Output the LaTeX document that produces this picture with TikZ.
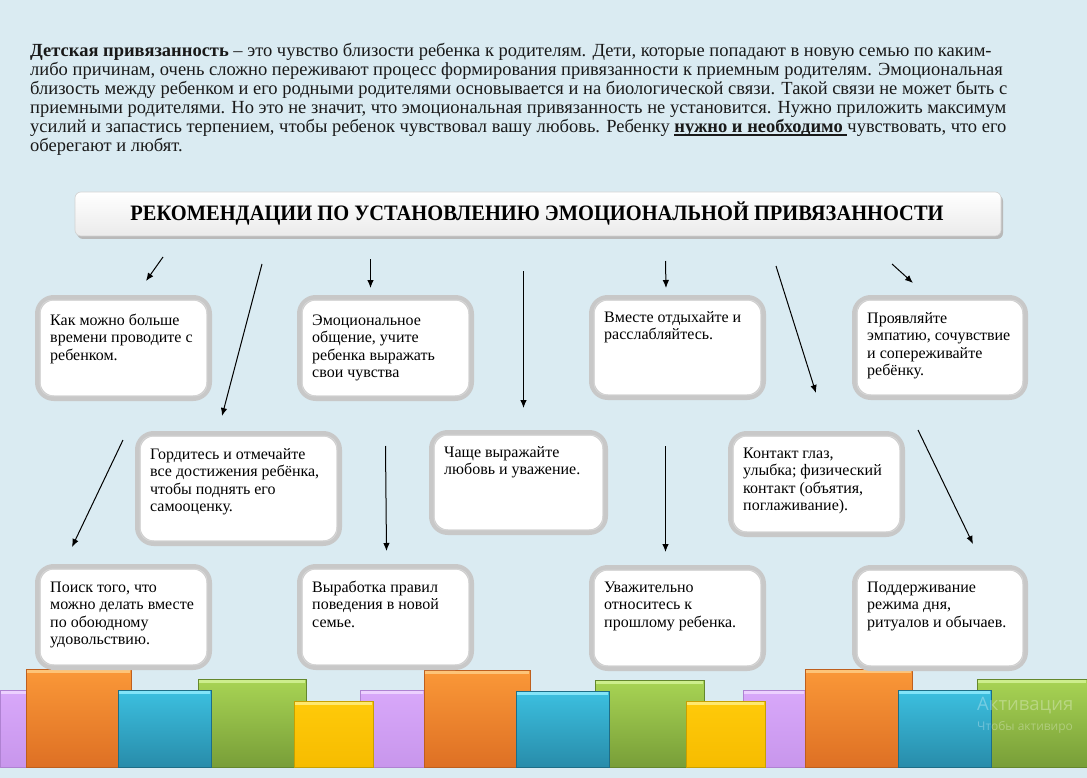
\documentclass[tikz,border=0pt]{standalone}
\usepackage{fontspec}
\usepackage{graphicx}
\setmainfont{Liberation Serif}
\newfontfamily\wmfont{Open Sans}
\usetikzlibrary{arrows.meta,calc}

\definecolor{bg}{RGB}{218,235,242}
\definecolor{boxgray}{RGB}{200,200,200}
\definecolor{boxinner}{RGB}{214,214,214}
\definecolor{txt}{RGB}{25,25,25}
\definecolor{orT}{RGB}{250,152,56}\definecolor{orB}{RGB}{222,112,36}\definecolor{orH}{RGB}{253,196,120}\definecolor{orE}{RGB}{190,95,30}
\definecolor{blT}{RGB}{60,192,224}\definecolor{blB}{RGB}{40,140,170}\definecolor{blH}{RGB}{130,228,248}\definecolor{blE}{RGB}{30,110,135}
\definecolor{grT}{RGB}{168,212,84}\definecolor{grB}{RGB}{120,158,56}\definecolor{grH}{RGB}{205,238,140}\definecolor{grE}{RGB}{100,135,45}
\definecolor{ylT}{RGB}{255,202,10}\definecolor{ylB}{RGB}{246,188,0}\definecolor{ylH}{RGB}{255,232,110}\definecolor{ylE}{RGB}{200,160,0}
\definecolor{puT}{RGB}{216,168,250}\definecolor{puB}{RGB}{200,150,236}\definecolor{puH}{RGB}{236,208,255}\definecolor{puE}{RGB}{175,130,210}

\newcommand\ulx[1]{\setbox0\hbox{#1}\rlap{\rule[-2.8pt]{\wd0}{1.6pt}}\box0}

\tikzset{
  recbox/.style={draw=boxgray, line width=5.5pt, fill=white, rounded corners=16pt, inner sep=0pt},
  innerline/.style={draw=boxinner, line width=0.9pt, rounded corners=12pt},
  boxtext/.style={anchor=base west, inner sep=0pt, text=black,
    font=\fontsize{16}{17.5}\selectfont},
  partext/.style={anchor=base west, inner sep=0pt, text=txt, font=\fontsize{18.5}{19}\selectfont},
  arr/.style={draw=black, line width=1pt, -{Latex[length=8pt,width=6.5pt]}},
  bar/.style={line width=0.6pt},
}

\newcommand\rbox[7]{%
  \node[recbox, minimum width={#4pt-#2pt-5.5pt}, minimum height={#5pt-#3pt-5.5pt}]
    (b#1) at ({(#2+#4)/2},{(#3+#5)/2}) {};
  \draw[innerline] ($(b#1.north west)+(5,5)$) rectangle ($(b#1.south east)+(-5,-5)$);
  \node[boxtext] (t#1) at ({#2+15},#7) {\begin{tabular}[t]{@{}l@{}}#6\end{tabular}};
}
\newcommand\barx[4]{% x1 top x2 colorprefix
  \path[bar, top color=#4T, bottom color=#4B, draw=#4E] (#1,#2) rectangle (#3,767);
  \fill[#4H] ({#1+0.6},{#2+0.6}) rectangle ({#3-0.6},{#2+4});
}

\begin{document}
\begin{tikzpicture}[x=1pt,y=-1pt]
\useasboundingbox (0,0) rectangle (1087,778);
\fill[bg] (0,0) rectangle (1087,778);

% paragraph
\node[partext] (p1) at (30,57) {\textbf{Детская привязанность} – это чувство близости ребенка к родителям. Дети, которые попадают в новую семью по каким-};
\node[partext] (p2) at (30,76) {либо причинам, очень сложно переживают процесс формирования привязанности к приемным родителям. Эмоциональная};
\node[partext] (p3) at (30,95) {близость между ребенком и его родными родителями основывается и на биологической связи. Такой связи не может быть с};
\node[partext] (p4) at (30,114) {приемными родителями. Но это не значит, что эмоциональная привязанность не установится. Нужно приложить максимум};
\node[partext] (p5) at (30,133) {усилий и запастись терпением, чтобы ребенок чувствовал вашу любовь. Ребенку \ulx{\textbf{нужно и необходимо }}чувствовать, что его};
\node[partext] (p6) at (30,152) {оберегают и любят.};

% header
\fill[gray!55, rounded corners=6pt] (77,195) rectangle (1003,239);
\path[top color=white, bottom color=gray!16, draw=gray!35, line width=0.6pt, rounded corners=6pt] (75,192) rectangle (1001,236);
\node[inner sep=0pt, anchor=base] (hdr) at (537,220.5)
  {\resizebox{813pt}{\height}{\fontsize{22}{22}\selectfont\bfseries РЕКОМЕНДАЦИИ ПО УСТАНОВЛЕНИЮ ЭМОЦИОНАЛЬНОЙ ПРИВЯЗАННОСТИ}};

% arrows
\coordinate (a1s) at (163,257); \coordinate (a1e) at (146,281);
\coordinate (a2s) at (262,264); \coordinate (a2e) at (222,416);
\coordinate (a3s) at (370.5,259); \coordinate (a3e) at (370.5,288);
\coordinate (a4s) at (523.5,271); \coordinate (a4e) at (523.5,408);
\coordinate (a5s) at (665.5,261); \coordinate (a5e) at (666,288);
\coordinate (a6s) at (776,266); \coordinate (a6e) at (816,393);
\coordinate (a7s) at (892,264); \coordinate (a7e) at (913,283);
\coordinate (a8s) at (123,440); \coordinate (a8e) at (72,547);
\coordinate (a9s) at (385.5,446); \coordinate (a9e) at (386.5,551);
\coordinate (a10s) at (665.5,446); \coordinate (a10e) at (665.5,552);
\coordinate (a11s) at (918,430); \coordinate (a11e) at (973,544);
\foreach \i in {1,...,11}{\draw[arr] (a\i s) -- (a\i e);}

% bars (back to front)
\barx{0}{690}{27}{pu}
\barx{198}{679}{306}{gr}
\barx{360}{690}{424}{pu}
\barx{595}{680}{704}{gr}
\barx{743}{690}{805}{pu}
\barx{977}{679}{1087}{gr}
\barx{26}{669}{131}{or}
\barx{424}{670}{530}{or}
\barx{805}{669}{912}{or}
\barx{118}{690}{211}{bl}
\barx{516}{691}{609}{bl}
\barx{898}{690}{991}{bl}
\barx{294}{701}{373}{yl}
\barx{686}{701}{765}{yl}

% boxes
\rbox{1}{35}{295}{212}{401}{Как можно больше\\времени проводите с\\ребенком.}{325}
\rbox{2}{297}{295}{474}{401}{Эмоциональное\\общение, учите\\ребенка выражать\\свои чувства}{325}
\rbox{3}{589}{295}{766}{400}{Вместе отдыхайте и\\расслабляйтесь.}{322}
\rbox{4}{852}{295}{1028}{400}{Проявляйте\\эмпатию, сочувствие\\и сопереживайте\\ребёнку.}{323}
\rbox{5}{135}{431}{342}{546}{Гордитесь и отмечайте\\все достижения ребёнка,\\чтобы поднять его\\самооценку.}{459}
\rbox{6}{429}{430}{608}{535}{Чаще выражайте\\любовь и уважение.}{457}
\rbox{7}{728}{431}{905}{537}{Контакт глаз,\\улыбка; физический\\контакт (объятия,\\поглаживание).}{458}
\rbox{8}{35}{564}{212}{670}{Поиск того, что\\можно делать вместе\\по обоюдному\\удовольствию.}{592}
\rbox{9}{297}{564}{474}{670}{Выработка правил\\поведения в новой\\семье.}{592}
\rbox{10}{589}{565}{766}{671}{Уважительно\\относитесь к\\прошлому ребенка.}{592}
\rbox{11}{852}{565}{1028}{671}{Поддерживание\\режима дня,\\ритуалов и обычаев.}{592}

% faint watermark (visible part)
\node[anchor=base west, inner sep=0pt, text=white, opacity=0.3] (wm1) at (977,710)
  {\wmfont\fontsize{18.5}{20}\selectfont Активация};
\node[anchor=base west, inner sep=0pt, text=white, opacity=0.3] (wm2) at (977,730)
  {\wmfont\fontsize{12}{14}\selectfont Чтобы активиро};
\end{tikzpicture}
\end{document}
